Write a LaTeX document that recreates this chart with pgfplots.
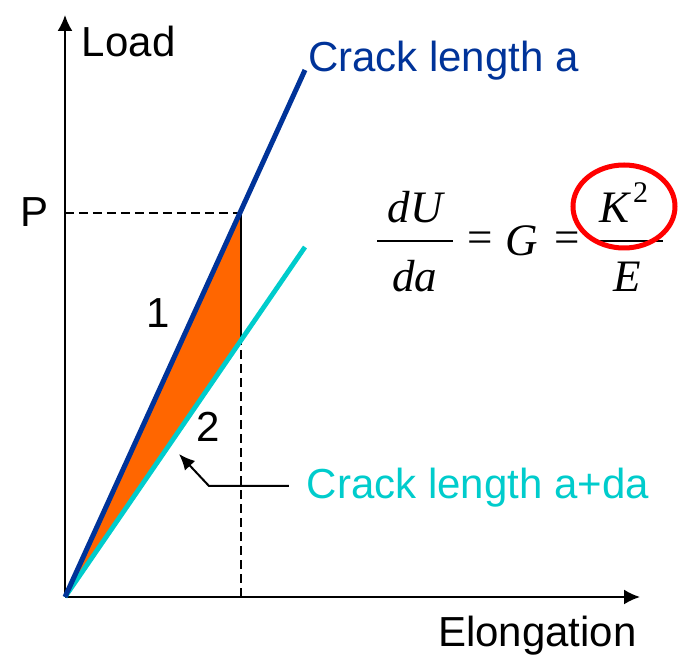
\documentclass[border=0pt]{standalone}
\usepackage{pgfplots}
\pgfplotsset{compat=1.18}
\usepackage{fontspec}
\setmainfont{Liberation Sans}
\newfontfamily\tnr{Liberation Serif}
\usetikzlibrary{arrows.meta}
\definecolor{cblue}{RGB}{0,51,153}
\definecolor{ccyan}{RGB}{0,204,204}
\definecolor{corange}{RGB}{255,102,0}
\definecolor{cred}{RGB}{255,0,0}
\tikzset{
  lab/.style={inner sep=0pt, outer sep=0pt, font=\fontsize{21}{25}\selectfont},
  eq/.style={inner sep=0pt, outer sep=0pt, font=\tnr\fontsize{22.5}{27}\selectfont},
}
\begin{document}
\begin{tikzpicture}
\begin{axis}[
  x=0.5pt, y=0.5pt,
  xmin=0, xmax=575, ymin=0, ymax=582,
  axis lines=left,
  axis line style={line width=1pt, -{Latex[length=8pt,width=7.5pt]}},
  xtick=\empty, ytick=\empty,
  clip=false,
]
% bounding frame
\path (axis cs:-65,-61) rectangle (axis cs:616,597);
% energy triangle
\addplot[draw=none, fill=corange] coordinates {(0,0) (176,384) (176,260)} -- cycle;
% dashed guides
\addplot[black, line width=1.2pt, dash pattern=on 4.5pt off 2.5pt] coordinates {(0,384) (176,384)};
\addplot[black, line width=1.2pt, dash pattern=on 4.5pt off 2.5pt] coordinates {(176,0) (176,260)};
\addplot[black, line width=1.2pt] coordinates {(176,260) (176,384)};
% load lines
\addplot[ccyan, line width=2.4pt] coordinates {(0,0) (240,350)};
\addplot[cblue, line width=2.5pt] coordinates {(0,0) (240,527)};
% labels
\node[lab, anchor=base west] at (axis cs:17,540) {Load};
\node[lab, anchor=base] at (axis cs:-30.5,370) {P};
\node[lab, anchor=base west, text=cblue] at (axis cs:243,525) {Crack length a};
\node[lab, anchor=base] at (axis cs:93.5,269) {1};
\node[lab, anchor=base] at (axis cs:143,155) {2};
\node[lab, anchor=base west, text=ccyan] at (axis cs:242,98) {Crack length a+da};
\node[lab, anchor=base west] at (axis cs:373,-50) {Elongation};
\draw[line width=1pt, -{Latex[length=8pt,width=7pt]}] (axis cs:224,111) -- (axis cs:144,111) -- (axis cs:114,143);
% equation
\node[eq, anchor=base] at (axis cs:350,374) {\itshape dU};
\node[eq, anchor=base] at (axis cs:350,305) {\itshape da};
\draw[line width=1pt] (axis cs:312,356) -- (axis cs:388,356);
\node[eq] at (axis cs:415,355) {=};
\node[eq] at (axis cs:457,356) {\itshape G};
\node[eq] at (axis cs:502,355) {=};
\node[eq, anchor=base west] at (axis cs:534,374) {\itshape K\kern2pt\raisebox{10pt}{\upshape\fontsize{15}{17}\selectfont 2}};
\draw[line width=1pt] (axis cs:528,356) -- (axis cs:598,356);
\node[eq, anchor=base] at (axis cs:562,305) {\itshape E};
\draw[cred, line width=2.5pt] (axis cs:559,390.5) ellipse [x radius=25.5pt, y radius=20.75pt];
\end{axis}
\end{tikzpicture}
\end{document}
